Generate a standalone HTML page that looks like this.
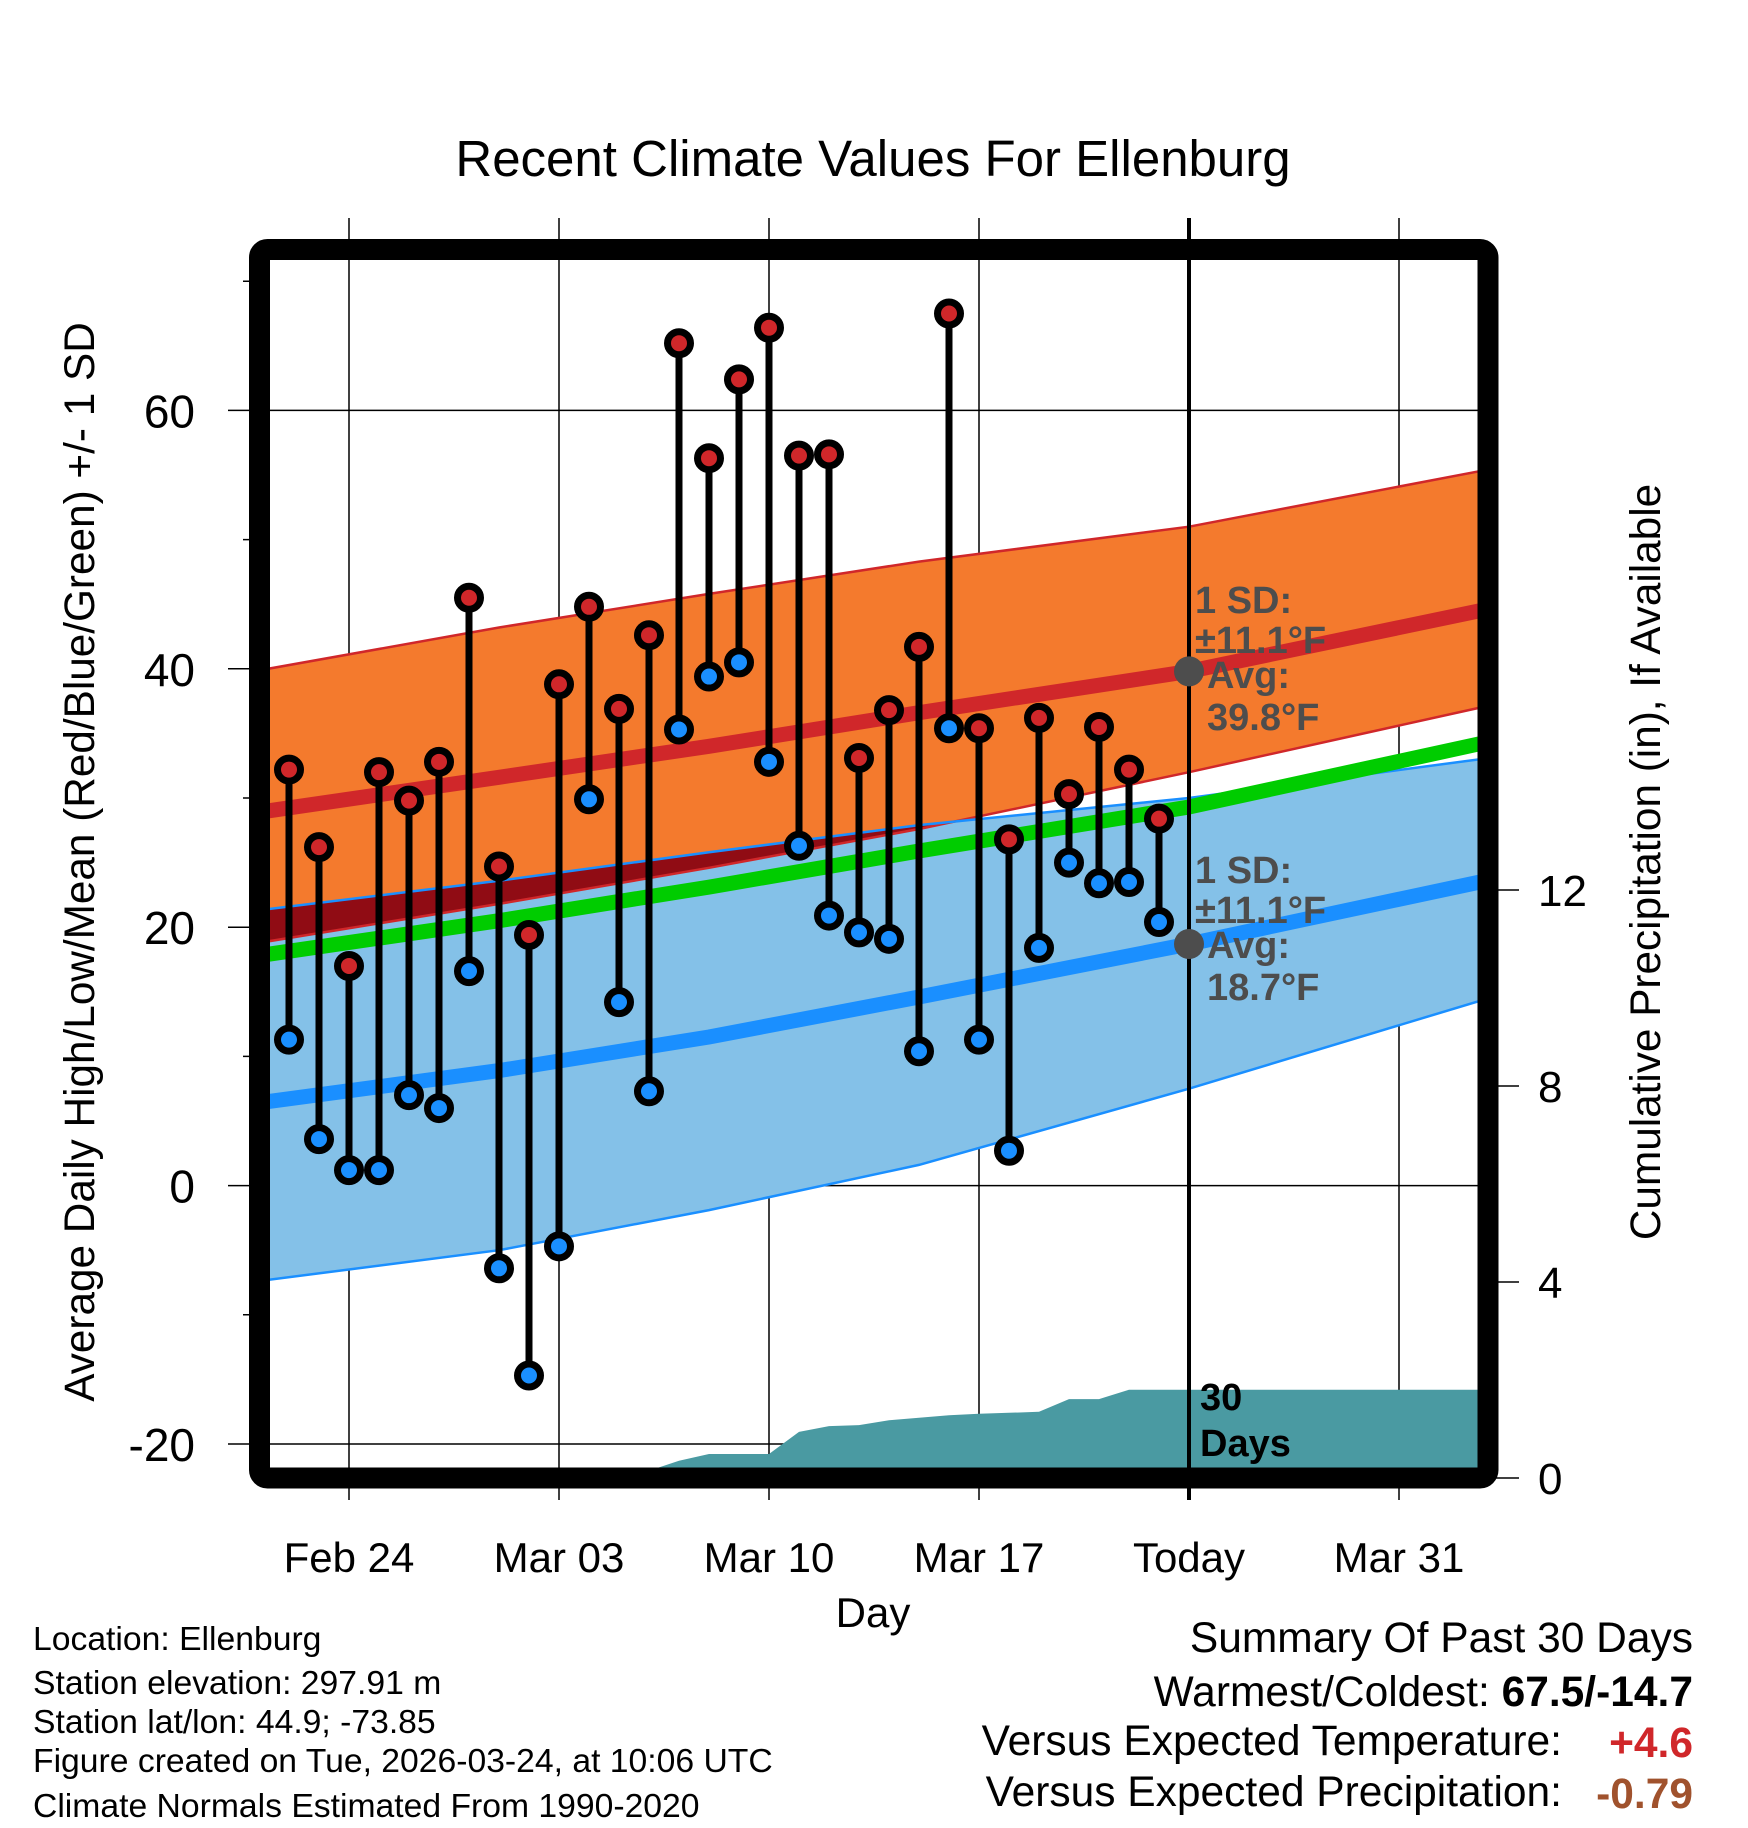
<!DOCTYPE html>
<html><head><meta charset="utf-8"><style>
html,body{margin:0;padding:0;background:#fff;}
svg{display:block;font-family:"Liberation Sans",Arial,sans-serif;}
</style></head><body>
<svg id="chart" width="1748" height="1828" viewBox="0 0 1748 1828" xmlns="http://www.w3.org/2000/svg">
<defs>
<clipPath id="plotclip"><rect x="270" y="260" width="1208" height="1208"/></clipPath>
<clipPath id="blueclip"><path id="blueclipPath" d=""/></clipPath>
</defs>
<text x="873" y="176" font-size="51" text-anchor="middle">Recent Climate Values For Ellenburg</text>
<g id="grid"></g>
<g id="plot" clip-path="url(#plotclip)"></g>
<g id="marks"></g>
<g id="annot"></g>
<rect x="259.5" y="249.5" width="1228.5" height="1228.5" fill="none" stroke="#000" stroke-width="21" rx="8"/>
<g id="axes"></g>
<text transform="translate(94,862) rotate(-90)" font-size="42.3" text-anchor="middle">Average Daily High/Low/Mean (Red/Blue/Green) +/- 1 SD</text>
<text transform="translate(1660,862) rotate(-90)" font-size="42.3" text-anchor="middle">Cumulative Precipitation (in), If Available</text>
<text x="873" y="1627" font-size="42" text-anchor="middle">Day</text>
<g font-size="33.7">
<text x="33" y="1650">Location: Ellenburg</text>
<text x="33" y="1694">Station elevation: 297.91 m</text>
<text x="33" y="1733">Station lat/lon: 44.9; -73.85</text>
<text x="33" y="1772">Figure created on Tue, 2026-03-24, at 10:06 UTC</text>
<text x="33" y="1817">Climate Normals Estimated From 1990-2020</text>
</g>
<g font-size="42.5">
<text x="1693" y="1652" text-anchor="end">Summary Of Past 30 Days</text>
<text x="1693" y="1706" text-anchor="end">Warmest/Coldest: <tspan font-weight="bold">67.5/-14.7</tspan></text>
<text x="1562" y="1755" text-anchor="end">Versus Expected Temperature:</text>
<text x="1693" y="1757" text-anchor="end" font-weight="bold" fill="#d0272a">+4.6</text>
<text x="1562" y="1806" text-anchor="end">Versus Expected Precipitation:</text>
<text x="1693" y="1808" text-anchor="end" font-weight="bold" fill="#a0522d">-0.79</text>
</g>
</svg>
<script>
// Data
const obsDays = [-2,-1,0,1,2,3,4,5,6,7,8,9,10,11,12,13,14,15,16,17,18,19,20,21,22,23,24,25,26,27];
const highs = [32.2,26.2,17,32,29.8,32.8,45.5,24.7,19.4,38.8,44.8,36.9,42.6,65.2,56.3,62.4,66.4,56.5,56.6,33.1,36.8,41.7,67.5,35.4,26.8,36.2,30.3,35.5,32.2,28.4];
const lows = [11.3,3.6,1.2,1.2,7,6,16.6,-6.4,-14.7,-4.7,29.9,14.2,7.3,35.3,39.4,40.5,32.8,26.3,20.9,19.6,19.1,10.4,35.4,11.3,2.7,18.4,25,23.4,23.5,20.4];
const normDays = [-2.7,5,12,19,28,37.7];
const hiMean = [29,31.6,34,36.6,39.8,44.5];
const hiUpper = [40,43.2,45.8,48.3,51,55.3];
const hiLower = [18.9,21.8,24.6,27.6,32,37];
const loUpper = [21.4,23.6,25.8,27.9,30,33];
const avgMean = [17.9,20.5,23.1,25.9,29.3,34.2];
const loMean = [6.5,8.9,11.5,14.6,18.7,23.5];
const loLower = [-7.3,-5,-1.9,1.6,7.5,14.3];
const precipDays = [9,10,11,12,13,14,15,16,17,18,19,20,21,22,23,24,25,26,27,37.7];
const precipCum = [0,0.15,0.35,0.49,0.49,0.49,0.94,1.06,1.08,1.18,1.23,1.28,1.31,1.33,1.35,1.61,1.61,1.8,1.8,1.8];
const xTickDays = [0,7,14,21,28,35];
const xTickLabels = ["Feb 24","Mar 03","Mar 10","Mar 17","Today","Mar 31"];
const yTicks = [-20,0,20,40,60];
const yMinor = [-10,10,30,50,70];
const pTicks = [0,4,8,12];
const todayHiAvg = 39.8, todayLoAvg = 18.7, todayDay = 28;

const NS="http://www.w3.org/2000/svg";
const X = d => 349 + 30*d;
const Y = v => 1185.6 - 12.92*v;
const P = p => 1478 - 49*p;
function mk(tag, attrs, parent){const e=document.createElementNS(NS,tag);for(const k in attrs)e.setAttribute(k,attrs[k]);parent.appendChild(e);return e;}
function line(arr){return arr.map((v,i)=>(i?'L':'M')+X(normDays[i]).toFixed(1)+' '+Y(v).toFixed(1)).join(' ');}
function band(up,lo){let d=line(up);for(let i=lo.length-1;i>=0;i--)d+=' L'+X(normDays[i]).toFixed(1)+' '+Y(lo[i]).toFixed(1);return d+' Z';}

const plot=document.getElementById('plot');
const grid=document.getElementById('grid');
const axes=document.getElementById('axes');
const marks=document.getElementById('marks');
const annot=document.getElementById('annot');

let e;
e=mk('path',{d:band(hiUpper,hiLower),fill:'#f47a2d'},plot);


e=mk('path',{d:band(loUpper,loLower),fill:'#84c1e8'},plot);


document.getElementById('blueclipPath').setAttribute('d',band(loUpper,loLower));
e=mk('path',{d:band(hiUpper,hiLower),fill:'#900c14','clip-path':'url(#blueclip)'},plot);


[[hiUpper,'#d0272a','high-upper-edge'],[hiLower,'#d0272a','high-lower-edge'],[loUpper,'#1a8fff','low-upper-edge'],[loLower,'#1a8fff','low-lower-edge']].forEach(a=>{
 const l=mk('path',{d:line(a[0]),fill:'none',stroke:a[1],'stroke-width':2.5},plot);
 
 
});
[[hiMean,'#d0272a','high-mean-line'],[avgMean,'#00cc00','avg-mean-line'],[loMean,'#1a8fff','low-mean-line']].forEach(a=>{
 const l=mk('path',{d:line(a[0]),fill:'none',stroke:a[1],'stroke-width':15},plot);
 
 
});
let pd='M'+X(precipDays[0])+' '+P(0);
precipDays.forEach((d,i)=>{pd+=' L'+X(d).toFixed(1)+' '+P(precipCum[i]).toFixed(1);});
pd+=' L'+X(precipDays[precipDays.length-1])+' '+P(0)+' Z';
e=mk('path',{d:pd,fill:'#4a9aa2'},plot);



xTickDays.forEach((d,i)=>{
 const g=mk('line',{x1:X(d),x2:X(d),y1:218,y2:1500,stroke:'#000','stroke-width':d===todayDay?4:1.5},d===todayDay?marks:grid);
 
 
 const t=mk('text',{x:X(d),y:1572,'font-size':42,'text-anchor':'middle'},axes);
 t.textContent=xTickLabels[i];
 
 
});
yTicks.forEach(v=>{
 const g=mk('line',{x1:228,x2:1478,y1:Y(v),y2:Y(v),stroke:'#000','stroke-width':1.5},grid);
 
 
 const t=mk('text',{x:195,y:Y(v)+17,'font-size':46,'text-anchor':'end'},axes);
 t.textContent=v;
 
 
});
yMinor.forEach(v=>{
 const g=mk('line',{x1:243,x2:262,y1:Y(v),y2:Y(v),stroke:'#000','stroke-width':1.5},axes);
 
 
});
pTicks.forEach(p=>{
 const g=mk('line',{x1:1488,x2:1519,y1:P(p),y2:P(p),stroke:'#000','stroke-width':1.5},axes);
 
 
 const t=mk('text',{x:1538,y:P(p)+16,'font-size':44,'text-anchor':'start'},axes);
 t.textContent=p;
 
 
});

obsDays.forEach((d,i)=>{
 const s=mk('line',{x1:X(d),x2:X(d),y1:Y(highs[i]),y2:Y(lows[i]),stroke:'#000','stroke-width':7},marks);
 
 
});
obsDays.forEach((d,i)=>{
 const h=mk('circle',{cx:X(d),cy:Y(highs[i]),r:11.5,fill:'#d0272a',stroke:'#000','stroke-width':7},marks);
 
 
 const l=mk('circle',{cx:X(d),cy:Y(lows[i]),r:11.5,fill:'#1a8fff',stroke:'#000','stroke-width':7},marks);
 
 
});

function ann(avg,by){
 const c=mk('circle',{cx:X(todayDay),cy:Y(avg),r:15,fill:'#4d4d4d'},annot);
 
 
 const lines=[['1 SD:',1195,by],['\u00B111.1\u00B0F',1195,by+40],['Avg:',1207,by+75],[avg.toFixed(1)+'\u00B0F',1207,by+117]];
 lines.forEach(L=>{
  const t=mk('text',{x:L[1],y:L[2],'font-size':38,'font-weight':'bold',fill:'#4d4d4d'},annot);
  t.textContent=L[0];
  
  
 });
}
ann(todayHiAvg,613);
ann(todayLoAvg,883);
const t30=mk('text',{x:1200,y:1410,'font-size':38,'font-weight':'bold',fill:'#000'},annot);
t30.textContent='30';


const t31=mk('text',{x:1200,y:1456,'font-size':38,'font-weight':'bold',fill:'#000'},annot);
t31.textContent='Days';


</script>
</body></html>
